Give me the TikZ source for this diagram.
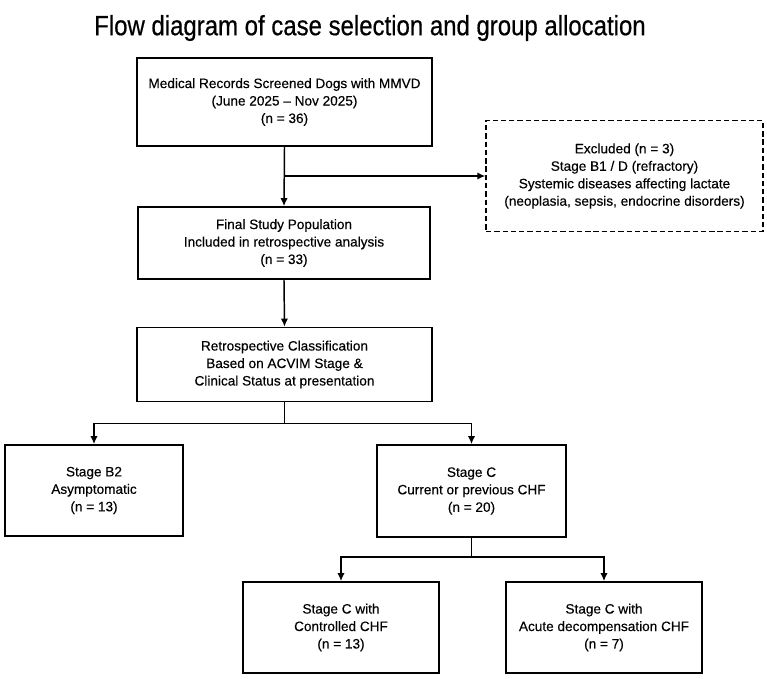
\documentclass[tikz,border=0pt]{standalone}
\usepackage{fontspec}
\setmainfont{Liberation Sans}[FakeBold=0.35]
\newfontfamily\titlefont[FakeStretch=0.86, FakeBold=0.5]{Liberation Sans}
\usepackage{tikz}
\usetikzlibrary{positioning, calc, arrows.meta}
\tikzset{every picture/.append style={thick}}
\tikzset{
  box/.style={draw, line width=1.3pt, align=center, inner sep=0pt,
    font=\fontsize{10.2}{13.1}\selectfont},
  dashbox/.style={box, line width=1.1pt, dash pattern=on 4pt off 2.2pt},
  arr/.style={line width=1.1pt, -{Latex[length=6pt,width=5.5pt]}}
}

\begin{document}
\begin{tikzpicture}[x=0.75pt, y=-0.75pt]
  \useasboundingbox (0,0) rectangle (767,678);

  % Title
  \node[font=\titlefont\fontsize{20.9}{24}\selectfont] (title) at (370,28) {Flow diagram of case selection and group allocation};

  % Screening and exclusion
  \node[box, minimum width=221.25pt, minimum height=66pt] (records) at (284.5,102)
    {Medical Records Screened Dogs with MMVD\\(June 2025 -- Nov 2025)\\(n = 36)};
  \node[dashbox, minimum width=207.75pt, minimum height=83.25pt] (excluded) at (624.5,176)
    {Excluded (n = 3)\\Stage B1 / D (refractory)\\Systemic diseases affecting lactate\\(neoplasia, sepsis, endocrine disorders)};
  \node[box, minimum width=219pt, minimum height=54pt] (final) at (284,243)
    {Final Study Population\\Included in retrospective analysis\\(n = 33)};
  \node[box, minimum width=221.25pt, minimum height=55.5pt] (classif) at (284.5,364.5)
    {Retrospective Classification\\Based on ACVIM Stage \&\\Clinical Status at presentation};

  % Groups
  \node[box, minimum width=133.5pt, minimum height=68.25pt] (b2) at (94,490.5)
    {Stage B2\\Asymptomatic\\(n = 13)};
  \node[box, minimum width=141.75pt, minimum height=69pt] (stagec) at (471.5,491)
    {Stage C\\Current or previous CHF\\(n = 20)};
  \node[box, minimum width=147pt, minimum height=68.25pt] (controlled) at (341,627.5)
    {Stage C with\\Controlled CHF\\(n = 13)};
  \node[box, minimum width=147pt, minimum height=68.25pt] (acute) at (604,627.5)
    {Stage C with\\Acute decompensation CHF\\(n = 7)};

  % Connectors
  \draw[arr] (records.south) -- (final.north);
  \draw[arr] (records.south |- excluded.west) -- (excluded.west);
  \draw[arr] (final.south) -- (classif.north);
  \draw[arr] (classif.south) -- ++(0,21) -| (b2.north);
  \draw[arr] (classif.south) -- ++(0,21) -| (stagec.north);
  \draw[arr] (stagec.south) -- ++(0,19) -| (controlled.north);
  \draw[arr] (stagec.south) -- ++(0,19) -| (acute.north);
\end{tikzpicture}
\end{document}
